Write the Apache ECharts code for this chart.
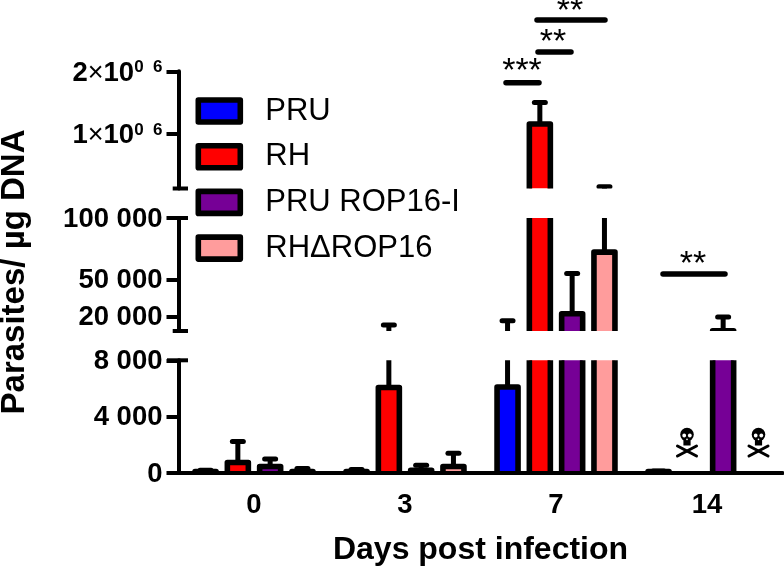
<!DOCTYPE html>
<html>
<head>
<meta charset="utf-8">
<title>Parasites per ug DNA</title>
<script src="https://cdn.jsdelivr.net/npm/echarts@6/dist/echarts.min.js"></script>
<style>
html,body{margin:0;padding:0;background:#fff}
#main{width:784px;height:567px}
</style>
</head>
<body>
<div id="main"></div>
<script>
var days = ['0', '3', '7', '14'];
var groupNames = ['PRU', 'RH', 'PRU ROP16-I', 'RH\u0394ROP16'];
var groupColors = ['#0000ff', '#ff0000', '#760096', '#ff9c9c'];

// means (null = all dead)
var pruMeans = [100, 100, 6100, 100];
var rhMeans = [750, 6070, 1157000, null];
var pruRop16Means = [460, 200, 22600, 8800];
var rhDeltaMeans = [100, 460, 72400, null];

// top of the error bars
var pruUppers = [200, 250, 16800, 150];
var rhUppers = [2240, 13500, 1500000, null];
var pruRop16Uppers = [1000, 550, 55200, 20000];
var rhDeltaUppers = [320, 1400, 154000, null];

var allMeans = [pruMeans, rhMeans, pruRop16Means, rhDeltaMeans];
var allUppers = [pruUppers, rhUppers, pruRop16Uppers, rhDeltaUppers];

// the three pieces of the broken y axis
var topTicks = [1000000, 2000000];
var midTicks = [20000, 50000, 100000];
var lowTicks = [0, 4000, 8000];

var font = '"Liberation Sans", Arial, sans-serif';
var slotShare = 32.3 / 151, barShare = 21 / 151, capShare = 11 / 151;

function spaced(v) {
    return String(v).replace(/\B(?=(\d{3})+$)/g, ' ');
}

function drawBar(slot) {
    return function (params, api) {
        var cs = params.coordSys;
        var band = api.size([1, 0])[0];
        var x = api.coord([api.value(0), 0])[0] + (slot - 1.5) * band * slotShare;
        var half = band * barShare / 2;
        var capHalf = band * capShare / 2;
        var base = cs.y + cs.height;
        var yMean = api.coord([0, api.value(1)])[1];
        var yUp = api.coord([0, api.value(2)])[1];
        // this piece of the axis is above the whole mark
        if (yUp > base + 4) return null;
        var kids = [
            {type: 'line', shape: {x1: x, y1: yMean, x2: x, y2: yUp}, style: {stroke: '#000', fill: null, lineWidth: 5}},
            {type: 'line', shape: {x1: x - capHalf, y1: yUp, x2: x + capHalf, y2: yUp},
                style: {stroke: '#000', lineWidth: 5, lineCap: 'round'}}
        ];
        if (yMean < base + 3) {
            kids.push({type: 'rect', shape: {x: x - half, y: yMean, width: half * 2, height: base - yMean},
                style: {fill: api.visual('color')}});
            kids.push({type: 'polyline',
                shape: {points: [[x - half, base + 4], [x - half, yMean], [x + half, yMean], [x + half, base + 4]]},
                style: {stroke: '#000', fill: null, lineWidth: 5.6, lineJoin: 'round'}});
        }
        return {type: 'group', children: kids};
    };
}

var grids = [
    {left: 178.5, width: 604, top: 71.3, height: 117.2, outerBoundsMode: 'none'},
    {left: 178.5, width: 604, top: 218, height: 113, outerBoundsMode: 'none'},
    {left: 178.5, width: 604, top: 360.3, height: 112.7, outerBoundsMode: 'none'}
];

var series = [];
grids.forEach(function (g, gi) {
    groupNames.forEach(function (name, si) {
        var rows = [];
        days.forEach(function (d, i) {
            if (allMeans[si][i] !== null) rows.push([d, allMeans[si][i], allUppers[si][i]]);
        });
        series.push({
            type: 'custom',
            name: name,
            xAxisIndex: gi,
            yAxisIndex: gi,
            clip: true,
            itemStyle: {color: groupColors[si]},
            encode: {x: 0, y: 1},
            renderItem: drawBar(si),
            data: rows
        });
    });
});

function yAxisFor(gi, min, max, ticks, fmt, padTop) {
    return {
        type: 'value',
        gridIndex: gi,
        min: min,
        max: max,
        splitLine: {show: false},
        axisLine: {show: true, onZero: false, lineStyle: {color: '#000', width: 4}},
        axisTick: {show: true, length: 12, customValues: ticks, lineStyle: {color: '#000', width: 4}},
        axisLabel: {
            show: true,
            customValues: ticks,
            margin: 16,
            padding: [padTop, 0, 0, 0],
            color: '#000',
            fontFamily: font,
            fontWeight: 'bold',
            fontSize: 27.5,
            formatter: fmt,
            rich: {
                a: {fontFamily: font, fontWeight: 'bold', fontSize: 27.5, color: '#000'},
                x: {fontFamily: font, fontWeight: 'normal', fontSize: 27, color: '#000'},
                s: {fontFamily: font, fontWeight: 'bold', fontSize: 17, color: '#000', verticalAlign: 'top', padding: [0, 0, 9, 0]}
            }
        }
    };
}

function hline(x1, x2, y, w) {
    return {type: 'line', shape: {x1: x1, y1: y, x2: x2, y2: y}, z: 10,
        style: {stroke: '#000', lineWidth: w || 4}};
}
function sigLine(x1, x2, y) {
    return {type: 'line', shape: {x1: x1, y1: y, x2: x2, y2: y}, z: 10,
        style: {stroke: '#000', lineWidth: 5.5, lineCap: 'round'}};
}
function stars(text, x, y) {
    return {type: 'text', x: x, y: y, z: 10,
        style: {text: text, fill: '#000', font: '34px ' + font, align: 'center', verticalAlign: 'middle'}};
}
// skull and crossbones, the DejaVu glyph is only an outline
function skull(x) {
    var bone = {stroke: '#000', lineWidth: 3, lineCap: 'round'};
    var hole = {fill: '#fff'};
    return {
        type: 'group', x: x, y: 442, z: 10,
        children: [
            {type: 'line', shape: {x1: -9.5, y1: 4, x2: 9.5, y2: 14}, style: bone},
            {type: 'line', shape: {x1: 9.5, y1: 4, x2: -9.5, y2: 14}, style: bone},
            {type: 'circle', shape: {cx: 0, cy: -7.5, r: 6.8}, style: {fill: '#000'}},
            {type: 'rect', shape: {x: -3.6, y: -3, width: 7.2, height: 6.5}, style: {fill: '#000'}},
            {type: 'circle', shape: {cx: -2.8, cy: -6.5, r: 1.9}, style: hole},
            {type: 'circle', shape: {cx: 2.8, cy: -6.5, r: 1.9}, style: hole},
            {type: 'circle', shape: {cx: 0, cy: -2.6, r: 0.8}, style: hole}
        ]
    };
}

var option = {
    animation: false,
    backgroundColor: '#fff',
    grid: grids,
    legend: {
        data: groupNames,
        orient: 'vertical',
        left: 190.5,
        top: 90.5,
        icon: 'rect',
        itemWidth: 42,
        itemHeight: 22,
        itemGap: 14.7,
        itemStyle: {borderColor: '#000', borderWidth: 5.6, borderJoin: 'round'},
        textStyle: {color: '#000', fontFamily: font, fontSize: 31, padding: [0, 0, 0, 20]}
    },
    xAxis: [
        {type: 'category', gridIndex: 0, data: days, show: false},
        {type: 'category', gridIndex: 1, data: days, show: false},
        {
            type: 'category',
            gridIndex: 2,
            data: days,
            z: 5,
            name: 'Days post infection',
            nameLocation: 'middle',
            nameGap: 61,
            nameTextStyle: {color: '#000', fontFamily: font, fontWeight: 'bold', fontSize: 32},
            axisLine: {lineStyle: {color: '#000', width: 4}},
            axisTick: {alignWithLabel: true, length: 12, lineStyle: {color: '#000', width: 4}},
            axisLabel: {margin: 18, color: '#000', fontFamily: font, fontWeight: 'bold', fontSize: 27.5}
        }
    ],
    yAxis: [
        yAxisFor(0, 125000, 2000000, topTicks, function (v) {
            return '{a|' + (v / 1000000) + '}{x|\u00d7}{a|10}{s|0  6}';
        }, 4),
        yAxisFor(1, 8600, 100000, midTicks, spaced, 2),
        yAxisFor(2, 0, 8000, lowTicks, spaced, 2)
    ],
    series: series,
    graphic: [
        // axis break ends
        hline(172.7, 188, 188.5),
        hline(167, 188, 218),
        hline(172.7, 188, 331),
        hline(167, 188, 360.3),
        {type: 'text', x: 15, y: 272, rotation: Math.PI / 2, z: 10,
            style: {text: 'Parasites/ \u00b5g DNA', fill: '#000', font: 'bold 33px ' + font, align: 'center', verticalAlign: 'middle'}},
        sigLine(506, 539, 82.7), stars('***', 522, 72),
        sigLine(538, 571, 52), stars('**', 553, 43),
        sigLine(537, 605, 20), stars('**', 570, 12),
        sigLine(663, 725, 274), stars('**', 693, 265),
        skull(687), skull(758.5)
    ]
};

var myChart = echarts.init(document.getElementById('main'), null, {renderer: 'canvas'});
myChart.setOption(option);
</script>
</body>
</html>
